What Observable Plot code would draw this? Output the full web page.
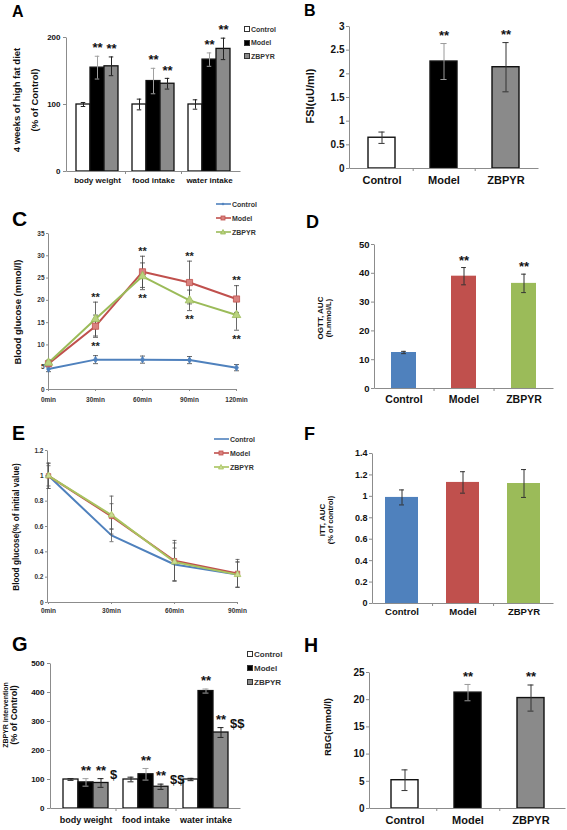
<!DOCTYPE html>
<html><head><meta charset="utf-8">
<script src="https://cdn.jsdelivr.net/npm/d3@7"></script>
<script src="https://cdn.jsdelivr.net/npm/@observablehq/plot@0.6"></script>
<style>
body{margin:0;background:#fff;}
#root{position:relative;width:567px;height:830px;overflow:hidden;background:#fff;font-family:Arial,"Liberation Sans",Helvetica,sans-serif;font-weight:bold;color:#111;}
.letter{position:absolute;line-height:1;font-weight:bold;color:#000;}
.ytitle{position:absolute;transform:translate(-50%,-50%) rotate(-90deg);white-space:nowrap;text-align:center;font-weight:bold;color:#111;}
.lrow{position:absolute;display:flex;align-items:center;height:10px;font-weight:bold;color:#333;white-space:nowrap;}
</style></head>
<body><div id="root"></div>
<script>
// ---------- data ----------
const groups = ["Control", "Model", "ZBPYR"];

// Panel A
const aCategories = ["body weight", "food intake", "water intake"];
const aControl = [100, 100, 100];
const aControlErr = [3, 8, 7];
const aModel = [155, 135, 167];
const aModelErr = [17, 19, 10];
const aZbpyr = [157, 131, 183];
const aZbpyrErr = [14, 8, 16];
const aModelSig = ["**", "**", "**"];
const aZbpyrSig = ["**", "**", "**"];
const aTicks = [0, 100, 200];

// Panel B
const bValues = [0.65, 2.26, 2.14];
const bErr = [0.12, 0.38, 0.52];
const bSig = ["", "**", "**"];
const bTicks = [0, 0.5, 1, 1.5, 2, 2.5, 3];

// Panel C
const cTimes = ["0min", "30min", "60min", "90min", "120min"];
const cControl = [4.6, 6.7, 6.7, 6.6, 4.9];
const cControlErr = [0.6, 0.9, 0.8, 0.8, 0.7];
const cModel = [5.8, 14.2, 26.4, 24.0, 20.3];
const cModelErr = [0.6, 2.5, 3.5, 4.8, 3.0];
const cZbpyr = [6.0, 15.8, 25.4, 20.0, 16.7];
const cZbpyrErr = [0.6, 3.8, 3.0, 2.3, 3.4];
const cSigAbove = ["", "**", "**", "**", "**"];
const cSigBelow = ["", "**", "**", "**", "**"];
const cTicks = [0, 5, 10, 15, 20, 25, 30, 35];

// Panel D
const dValues = [12.5, 39.0, 36.5];
const dErr = [0.4, 3.0, 3.2];
const dSig = ["", "**", "**"];
const dTicks = [0, 10, 20, 30, 40, 50];

// Panel E
const eTimes = ["0min", "30min", "60min", "90min"];
const eControl = [1.0, 0.53, 0.30, 0.22];
const eControlErr = [0.08, 0.05, 0.13, 0.10];
const eModel = [1.0, 0.68, 0.33, 0.23];
const eModelErr = [0.10, 0.10, 0.16, 0.11];
const eZbpyr = [1.0, 0.69, 0.32, 0.22];
const eZbpyrErr = [0.10, 0.15, 0.15, 0.10];
const eTicks = [0, 0.2, 0.4, 0.6, 0.8, 1, 1.2];

// Panel F
const fValues = [0.99, 1.13, 1.12];
const fErr = [0.07, 0.10, 0.13];
const fSig = ["", "", ""];
const fTicks = [0, 0.2, 0.4, 0.6, 0.8, 1, 1.2, 1.4];

// Panel G
const gCategories = ["body weight", "food intake", "water intake"];
const gControl = [100, 100, 100];
const gControlErr = [3, 8, 4];
const gModel = [90, 118, 405];
const gModelErr = [13, 20, 7];
const gZbpyr = [88, 75, 262];
const gZbpyrErr = [15, 9, 17];
const gModelSig = ["**", "**", "**"];
const gZbpyrSig = ["**", "**", "**"];
const gZbpyrSig2 = ["$", "$$", "$$"];
const gTicks = [0, 100, 200, 300, 400, 500];

// Panel H
const hValues = [5.2, 21.3, 20.3];
const hErr = [1.9, 1.5, 2.4];
const hSig = ["", "**", "**"];
const hTicks = [0, 5, 10, 15, 20, 25];

// ---------- helpers ----------
const FONT = 'Arial, "Liberation Sans", Helvetica, sans-serif';
const BW_FILL = {Control: "#ffffff", Model: "#000000", ZBPYR: "#8a8a8a"};
const RGB_FILL = {Control: "#4f81bd", Model: "#c0504d", ZBPYR: "#9bbb59"};
const AXIS = "#8c8c8c";
const root = document.getElementById("root");
const capSymbol = {draw(ctx, size) { const r = Math.sqrt(size / Math.PI); ctx.moveTo(-r, 0); ctx.lineTo(r, 0); }};

function put(node, left, top) {
  node.style.position = "absolute";
  node.style.left = left + "px";
  node.style.top = top + "px";
  root.appendChild(node);
  return node;
}
function baseStyle() {
  return {fontFamily: FONT, fontWeight: "bold", color: "#111", background: "transparent", overflow: "visible"};
}
function axisLine(W, H) {
  return Plot.frame({stroke: AXIS, strokeWidth: 1, strokeDasharray: `0 ${W + H} ${W + H}`});
}
function letter(t, left, capTop, size) {
  const d = document.createElement("div");
  d.className = "letter";
  d.textContent = t;
  d.style.fontSize = size + "px";
  put(d, left, capTop - 0.128 * size);
}
function yTitle(lines, cx, cy, lh) {
  const d = document.createElement("div");
  d.className = "ytitle";
  d.style.lineHeight = lh + "px";
  for (const l of lines) {
    const s = document.createElement("div");
    s.textContent = l.t;
    s.style.fontSize = l.s + "px";
    d.appendChild(s);
  }
  put(d, cx, cy);
}
function swatchLegend(left, top, gap, font) {
  groups.forEach((g, i) => {
    const r = document.createElement("div");
    r.className = "lrow";
    r.style.fontSize = font + "px";
    r.innerHTML = `<span style="display:inline-block;width:4px;height:4px;border:1px solid #333;background:${BW_FILL[g]};margin-right:1px"></span><span>${g}</span>`;
    put(r, left, top + i * gap - 5);
  });
}
function lineLegend(left, top, gap, font, items) {
  items.forEach((it, i) => {
    const r = document.createElement("div");
    r.className = "lrow";
    r.style.fontSize = font + "px";
    let mk = "";
    if (it.symbol === "square") mk = `<rect x="5" y="2" width="4" height="4" fill="${it.fill}" stroke="${it.color}" stroke-width="0.8"/>`;
    if (it.symbol === "triangle") mk = `<polygon points="7,1.5 9.5,6 4.5,6" fill="${it.fill}" stroke="${it.color}" stroke-width="0.8"/>`;
    if (it.symbol === "diamond") mk = `<polygon points="7,2.5 8.5,4 7,5.5 5.5,4" fill="${it.fill}"/>`;
    r.innerHTML = `<svg width="15" height="8" style="margin-right:1px"><line x1="0" y1="4" x2="15" y2="4" stroke="${it.color}" stroke-width="1.6"/>${mk}</svg><span>${it.name}</span>`;
    put(r, left, top + i * gap - 5);
  });
}

function simpleBars(cfg) {
  const {values, errs, sig, fills, stroke, ticks, box, pi, po, tickFont, catFont, catPad, capW, sigDy, sigFont, errColor} = cfg;
  const {width, height, ml, mr, mt, mb} = box;
  const W = width - ml - mr, H = height - mt - mb;
  const step = W / (groups.length - pi + 2 * po);
  const bw = step * (1 - pi);
  const cap = (bw - capW) / 2;
  const rows = groups.map((g, i) => ({g, v: values[i], e: errs[i], s: sig[i]}));
  return Plot.plot({
    width, height, marginLeft: ml, marginRight: mr, marginTop: mt, marginBottom: mb,
    style: baseStyle(),
    x: {type: "band", domain: groups, paddingInner: pi, paddingOuter: po},
    y: {domain: [ticks[0], ticks[ticks.length - 1]]},
    color: {type: "identity"},
    marks: [
      Plot.barY(rows, {x: "g", y: "v", fill: d => fills[d.g], stroke: stroke || "none", strokeWidth: 1.4}),
      axisLine(W, H),
      Plot.ruleX(rows, {x: "g", y1: d => d.v - d.e, y2: d => d.v + d.e, stroke: d => errColor(d.g), strokeWidth: 1}),
      Plot.tickY(rows, {x: "g", y: d => d.v + d.e, insetLeft: cap, insetRight: cap, stroke: d => errColor(d.g)}),
      Plot.tickY(rows, {x: "g", y: d => d.v - d.e, insetLeft: cap, insetRight: cap, stroke: d => errColor(d.g)}),
      Plot.text(rows.filter(d => d.s), {x: "g", y: d => d.v + d.e, text: "s", dy: -sigDy, fontSize: sigFont, lineAnchor: "middle", fill: "#111"}),
      Plot.axisY({ticks, tickFormat: d => String(d), tickSize: 3, tickPadding: 2, fontSize: tickFont, stroke: AXIS, label: null}),
      Plot.axisX({ticks: groups.slice(0, -1), tickFormat: () => "", tickSize: 3, dx: step / 2, stroke: AXIS, label: null}),
      Plot.axisX({tickSize: 0, tickPadding: catPad, fontSize: catFont, label: null})
    ]
  });
}

function groupedBars(cfg) {
  const {cats, vals, errs, sigM, sigZ, sig2, ticks, box, po, tickFont, catFont, catPad, capW, sigDy, sigFont} = cfg;
  const {width, height, ml, mr, mt, mb} = box;
  const W = width - ml - mr, H = height - mt - mb;
  const gaps = cats.slice(1).map((c, i) => "gap" + (i + 1));
  const domain = cats.flatMap((c, i) => [...(i ? [gaps[i - 1]] : []), ...groups.map(g => c + "|" + g)]);
  const bw = W / (domain.length + 2 * po);
  const cap = (bw - capW) / 2;
  const rows = cats.flatMap((c, ci) => groups.map((g, gi) => ({
    key: c + "|" + g, g, v: vals[gi][ci], e: errs[gi][ci],
    s: g === "Model" ? sigM[ci] : g === "ZBPYR" ? sigZ[ci] : "",
    s2: g === "ZBPYR" && sig2 ? sig2[ci] : ""
  })));
  const ec = g => g === "Model" ? "#a0a0a0" : "#222";
  return Plot.plot({
    width, height, marginLeft: ml, marginRight: mr, marginTop: mt, marginBottom: mb,
    style: baseStyle(),
    x: {type: "band", domain, paddingInner: 0, paddingOuter: po},
    y: {domain: [ticks[0], ticks[ticks.length - 1]]},
    color: {type: "identity"},
    marks: [
      Plot.barY(rows, {x: "key", y: "v", fill: d => BW_FILL[d.g], stroke: "#111", strokeWidth: 1.3}),
      axisLine(W, H),
      Plot.ruleX(rows, {x: "key", y1: d => d.v - d.e, y2: d => d.v + d.e, stroke: d => ec(d.g)}),
      Plot.tickY(rows, {x: "key", y: d => d.v + d.e, insetLeft: cap, insetRight: cap, stroke: d => ec(d.g)}),
      Plot.tickY(rows, {x: "key", y: d => d.v - d.e, insetLeft: cap, insetRight: cap, stroke: d => ec(d.g)}),
      Plot.text(rows.filter(d => d.s), {x: "key", y: d => d.v + d.e, text: "s", dy: -sigDy, fontSize: sigFont, lineAnchor: "middle", fill: "#111"}),
      Plot.text(rows.filter(d => d.s2), {x: "key", y: d => d.v + d.e, text: "s2", dx: 9, dy: -sigDy + 4, textAnchor: "start", fontSize: sigFont, lineAnchor: "middle", fill: "#111"}),
      Plot.axisY({ticks, tickFormat: d => String(d), tickSize: 3, tickPadding: 3, fontSize: tickFont, stroke: AXIS, label: null}),
      Plot.axisX({ticks: gaps, tickFormat: () => "", tickSize: 3, stroke: AXIS, label: null}),
      Plot.axisX({ticks: cats.map(c => c + "|Model"), tickFormat: d => d.split("|")[0], tickSize: 0, tickPadding: catPad, fontSize: catFont, label: null})
    ]
  });
}

function lines(cfg) {
  const {times, series, ticks, box, tickFont, xFont, xPad, sigAbove, sigBelow, sigDy, sigFont, capHalf, errColor} = cfg;
  const {width, height, ml, mr, mt, mb} = box;
  const W = width - ml - mr, H = height - mt - mb;
  const rowsOf = s => times.map((t, i) => ({name: s.name, t, v: s.values[i], e: s.errs[i]}));
  const all = series.flatMap(rowsOf);
  const marks = [axisLine(W, H)];
  for (const s of series) marks.push(Plot.line(rowsOf(s), {x: "t", y: "v", stroke: s.color, strokeWidth: s.width}));
  marks.push(
    Plot.ruleX(all, {x: "t", y1: d => d.v - d.e, y2: d => d.v + d.e, stroke: errColor, strokeWidth: 0.8}),
    Plot.dot(all, {x: "t", y: d => d.v + d.e, symbol: capSymbol, r: capHalf, stroke: errColor, strokeWidth: 0.8, fill: "none"}),
    Plot.dot(all, {x: "t", y: d => d.v - d.e, symbol: capSymbol, r: capHalf, stroke: errColor, strokeWidth: 0.8, fill: "none"})
  );
  for (const s of series) if (s.symbol) marks.push(Plot.dot(rowsOf(s), {x: "t", y: "v", symbol: s.symbol, r: s.r, fill: s.fill, stroke: s.color, strokeWidth: 0.8}));
  if (sigAbove) {
    const treated = series.filter(s => s.name !== "Control");
    const sig = times.map((t, i) => ({
      t,
      hi: d3.max(treated, s => s.values[i] + s.errs[i]),
      lo: d3.min(treated, s => s.values[i] - s.errs[i]),
      a: sigAbove[i], b: sigBelow[i]
    }));
    marks.push(
      Plot.text(sig.filter(d => d.a), {x: "t", y: "hi", text: "a", dy: -sigDy, fontSize: sigFont, lineAnchor: "middle", fill: "#222"}),
      Plot.text(sig.filter(d => d.b), {x: "t", y: "lo", text: "b", dy: sigDy + 4, fontSize: sigFont, lineAnchor: "middle", fill: "#222"})
    );
  }
  marks.push(
    Plot.axisY({ticks, tickFormat: d => String(d), tickSize: 2, tickPadding: 2, fontSize: tickFont, stroke: AXIS, fill: "#333", label: null}),
    Plot.axisX({tickSize: 2, tickPadding: xPad, fontSize: xFont, stroke: AXIS, fill: "#333", label: null})
  );
  return Plot.plot({
    width, height, marginLeft: ml, marginRight: mr, marginTop: mt, marginBottom: mb,
    style: baseStyle(),
    x: {type: "point", domain: times, padding: 0},
    y: {domain: [ticks[0], ticks[ticks.length - 1]]},
    marks
  });
}

// ---------- Panel A ----------
put(groupedBars({
  cats: aCategories, vals: [aControl, aModel, aZbpyr], errs: [aControlErr, aModelErr, aZbpyrErr],
  sigM: aModelSig, sigZ: aZbpyrSig, ticks: aTicks,
  box: {width: 245, height: 195, ml: 66, mr: 5, mt: 37, mb: 24}, po: 0.5,
  tickFont: 8, catFont: 8, catPad: 6, capW: 5, sigDy: 8, sigFont: 13
}), 0, 0);
letter("A", 12, 6, 16);
yTitle([{t: "4 weeks of high fat diet", s: 9.5}, {t: "(% of Control)", s: 9.5}], 26, 100, 18);
swatchLegend(244, 29, 13.5, 7);

// ---------- Panel B ----------
put(simpleBars({
  values: bValues, errs: bErr, sig: bSig, fills: BW_FILL, stroke: "#111", ticks: bTicks,
  box: {width: 277, height: 195, ml: 59, mr: 29, mt: 26, mb: 27}, pi: 0.57, po: 0.3,
  tickFont: 10, catFont: 11, catPad: 8, capW: 6, sigDy: 8, sigFont: 13,
  errColor: g => g === "Model" ? "#9a9a9a" : "#333"
}), 290, 0);
letter("B", 304, 5, 16);
yTitle([{t: "FSI(uU/ml)", s: 11}], 310, 96, 12);

// ---------- Panel C ----------
put(lines({
  times: cTimes,
  series: [
    {name: "Control", values: cControl, errs: cControlErr, color: "#4f81bd", width: 2, symbol: "diamond", r: 2, fill: "#4f81bd"},
    {name: "Model", values: cModel, errs: cModelErr, color: "#c0504d", width: 2, symbol: "square", r: 3.5, fill: "#d9827f"},
    {name: "ZBPYR", values: cZbpyr, errs: cZbpyrErr, color: "#9bbb59", width: 2, symbol: "triangle", r: 3.2, fill: "#b9d27f"}
  ],
  ticks: cTicks, box: {width: 290, height: 210, ml: 48, mr: 54, mt: 33, mb: 21},
  tickFont: 6.5, xFont: 6.5, xPad: 6, sigAbove: cSigAbove, sigBelow: cSigBelow, sigDy: 5, sigFont: 11,
  capHalf: 2.5, errColor: "#444"
}), 0, 200);
letter("C", 12, 211, 21);
yTitle([{t: "Blood glucose (mmol/l)", s: 9.5}], 17, 312, 11);
lineLegend(216, 204, 14, 7, [
  {name: "Control", color: "#4f81bd", symbol: "diamond", fill: "#4f81bd"},
  {name: "Model", color: "#c0504d", symbol: "square", fill: "#d9827f"},
  {name: "ZBPYR", color: "#9bbb59", symbol: "triangle", fill: "#b9d27f"}
]);

// ---------- Panel D ----------
put(simpleBars({
  values: dValues, errs: dErr, sig: dSig, fills: RGB_FILL, stroke: null, ticks: dTicks,
  box: {width: 277, height: 210, ml: 84, mr: 14, mt: 44, mb: 22}, pi: 0.58, po: 0.28,
  tickFont: 9.5, catFont: 10.5, catPad: 7, capW: 5, sigDy: 7, sigFont: 13,
  errColor: () => "#333"
}), 290, 200);
letter("D", 306, 215, 18);
yTitle([{t: "OGTT, AUC", s: 8}, {t: "(h.mmol/L)", s: 7.5}], 325, 318, 8);

// ---------- Panel E ----------
put(lines({
  times: eTimes,
  series: [
    {name: "Control", values: eControl, errs: eControlErr, color: "#4f81bd", width: 2, symbol: null},
    {name: "Model", values: eModel, errs: eModelErr, color: "#c0504d", width: 2, symbol: "square", r: 2.5, fill: "#d9827f"},
    {name: "ZBPYR", values: eZbpyr, errs: eZbpyrErr, color: "#a8c35e", width: 2, symbol: "triangle", r: 2.5, fill: "#c9dc94"}
  ],
  ticks: eTicks, box: {width: 290, height: 210, ml: 47, mr: 53, mt: 40, mb: 18},
  tickFont: 6.5, xFont: 6.5, xPad: 4, capHalf: 2, errColor: "#555"
}), 0, 410);
letter("E", 12, 426, 19.5);
yTitle([{t: "Blood glucose(% of initial value)", s: 8.3}], 16, 527, 10);
lineLegend(214, 439, 14, 7, [
  {name: "Control", color: "#4f81bd", symbol: null},
  {name: "Model", color: "#c0504d", symbol: "square", fill: "#d9827f"},
  {name: "ZBPYR", color: "#a8c35e", symbol: "triangle", fill: "#c9dc94"}
]);

// ---------- Panel F ----------
put(simpleBars({
  values: fValues, errs: fErr, sig: fSig, fills: RGB_FILL, stroke: null, ticks: fTicks,
  box: {width: 277, height: 210, ml: 82, mr: 14, mt: 43, mb: 17}, pi: 0.46, po: 0.21,
  tickFont: 9, catFont: 9.5, catPad: 5, capW: 5, sigDy: 7, sigFont: 13,
  errColor: () => "#333"
}), 290, 410);
letter("F", 304, 427, 18);
yTitle([{t: "ITT, AUC", s: 8}, {t: "(% of control)", s: 7.5}], 327, 520, 8);

// ---------- Panel G ----------
put(groupedBars({
  cats: gCategories, vals: [gControl, gModel, gZbpyr], errs: [gControlErr, gModelErr, gZbpyrErr],
  sigM: gModelSig, sigZ: gZbpyrSig, sig2: gZbpyrSig2, ticks: gTicks,
  box: {width: 245, height: 210, ml: 50, mr: 5, mt: 43, mb: 22}, po: 0.83,
  tickFont: 8, catFont: 9, catPad: 8, capW: 6, sigDy: 8, sigFont: 13
}), 0, 620);
letter("G", 12, 637, 20);
yTitle([{t: "ZBPYR intervention", s: 7}, {t: "(% of Control)", s: 9}], 10, 715, 8);
swatchLegend(247, 654, 14, 8);

// ---------- Panel H ----------
put(simpleBars({
  values: hValues, errs: hErr, sig: hSig, fills: BW_FILL, stroke: "#111", ticks: hTicks,
  box: {width: 277, height: 210, ml: 79, mr: 2, mt: 52, mb: 22}, pi: 0.575, po: 0.33,
  tickFont: 10, catFont: 11, catPad: 8, capW: 6, sigDy: 8, sigFont: 13,
  errColor: g => g === "Model" ? "#9a9a9a" : "#333"
}), 290, 620);
letter("H", 304, 638, 19.5);
yTitle([{t: "RBG(mmol/l)", s: 9.5}], 327, 727, 11);
</script>
</body></html>
